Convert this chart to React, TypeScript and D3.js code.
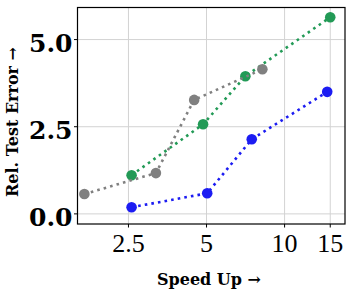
import * as d3 from "d3";
import React from "react";

type Series = {
  name: string;
  color: string;
  speedUp: number[];
  relError: number[];
};

const xTicks = [2.5, 5, 10, 15];
const xTickLabels = ["2.5", "5", "10", "15"];
const yTicks = [0, 2.5, 5];
const yTickLabels = ["0.0", "2.5", "5.0"];

const blueSpeedUp = [2.57, 5.03, 7.47, 14.6];
const blueError = [0.19, 0.59, 2.14, 3.5];
const greenSpeedUp = [2.57, 4.85, 7.06, 15.0];
const greenError = [1.11, 2.57, 3.95, 5.64];
const graySpeedUp = [1.69, 3.19, 4.48, 8.21];
const grayError = [0.57, 1.17, 3.27, 4.15];

const series: Series[] = [
  { name: "blue", color: "#1c1cf2", speedUp: blueSpeedUp, relError: blueError },
  { name: "green", color: "#229a56", speedUp: greenSpeedUp, relError: greenError },
  { name: "gray", color: "#808080", speedUp: graySpeedUp, relError: grayError },
];

const W = 352;
const H = 296;
const margin = { left: 77.5, right: 7, top: 7.5, bottom: 72 };

const App: React.FC = () => {
  const x = d3
    .scaleLog()
    .domain([1.59, 17.1])
    .range([margin.left, W - margin.right]);
  const y = d3
    .scaleLinear()
    .domain([-0.29, 5.92])
    .range([H - margin.bottom, margin.top]);

  const line = d3
    .line<[number, number]>()
    .x((d) => x(d[0]))
    .y((d) => y(d[1]));

  const plotW = W - margin.left - margin.right;
  const plotH = H - margin.top - margin.bottom;

  return (
    <svg
      width={W}
      height={H}
      style={{ position: "absolute", left: 0, top: 0, background: "#fff" }}
    >
      {/* grid */}
      <g stroke="#d3d3d3" strokeWidth={1}>
        {xTicks.map((t) => (
          <line key={"gx" + t} x1={x(t)} x2={x(t)} y1={margin.top} y2={H - margin.bottom} />
        ))}
        {yTicks.map((t) => (
          <line key={"gy" + t} x1={margin.left} x2={W - margin.right} y1={y(t)} y2={y(t)} />
        ))}
      </g>

      {/* series */}
      {series.map((s) => {
        const pts = s.speedUp.map((v, i) => [v, s.relError[i]] as [number, number]);
        return (
          <g key={s.name}>
            <path
              d={line(pts) ?? ""}
              fill="none"
              stroke={s.color}
              strokeWidth={2.6}
              strokeDasharray="2.6,4.1"
            />
            {pts.map((p, i) => (
              <circle key={i} cx={x(p[0])} cy={y(p[1])} r={5.3} fill={s.color} />
            ))}
          </g>
        );
      })}

      {/* frame */}
      <rect
        x={margin.left}
        y={margin.top}
        width={plotW}
        height={plotH}
        fill="none"
        stroke="#000"
        strokeWidth={1.2}
      />

      {/* x axis ticks */}
      {xTicks.map((t, i) => (
        <g key={"xt" + t}>
          <line x1={x(t)} x2={x(t)} y1={H - margin.bottom} y2={H - margin.bottom + 3.5} stroke="#000" />
          <text
            x={x(t)}
            y={252}
            textAnchor="middle"
            fontFamily="'Liberation Serif', serif"
            fontSize={26}
            fill="#000"
          >
            {xTickLabels[i]}
          </text>
        </g>
      ))}

      {/* y axis ticks */}
      {yTicks.map((t, i) => (
        <g key={"yt" + t}>
          <line x1={margin.left - 3.5} x2={margin.left} y1={y(t)} y2={y(t)} stroke="#000" />
          <text
            x={72.5}
            y={y(t) + 12.5}
            textAnchor="end"
            fontFamily="'DejaVu Serif', serif"
            fontWeight="bold"
            fontSize={25}
            fill="#000"
          >
            {yTickLabels[i]}
          </text>
        </g>
      ))}

      {/* axis titles */}
      <text
        x={209}
        y={285}
        textAnchor="middle"
        fontFamily="'DejaVu Serif', serif"
        fontWeight="bold"
        fontSize={16}
        fill="#000"
      >
        Speed Up →
      </text>
      <text
        transform="translate(18,122) rotate(-90)"
        textAnchor="middle"
        fontFamily="'DejaVu Serif', serif"
        fontWeight="bold"
        fontSize={16}
        fill="#000"
      >
        Rel. Test Error →
      </text>
    </svg>
  );
};

export default App;
